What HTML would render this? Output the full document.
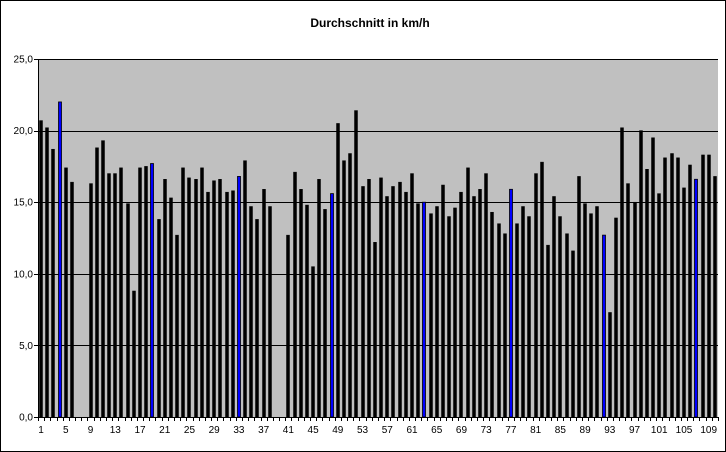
<!DOCTYPE html>
<html><head><meta charset="utf-8"><style>
body{margin:0;background:#fff}
svg{display:block;font-family:"Liberation Sans",Arial,sans-serif}
</style></head><body>
<svg id="chart" width="726" height="452">
<rect x="0.5" y="0.5" width="725" height="451" fill="#fff" stroke="#000"/>
<text x="370" y="27" text-anchor="middle" font-size="12" font-weight="bold">Durchschnitt in km/h</text>
<rect x="38" y="59" width="680" height="358" fill="#c0c0c0"/>
<g id="grid"></g><g id="bars"></g><g id="axes"></g>
</svg>
<script>
const values=[20.7,20.2,18.7,22.0,17.4,16.4,0,0,16.3,18.8,19.3,17.0,17.0,17.4,14.9,8.8,17.4,17.5,17.7,13.8,16.6,15.3,12.7,17.4,16.7,16.6,17.4,15.7,16.5,16.6,15.7,15.8,16.8,17.9,14.7,13.8,15.9,14.7,0,0,12.7,17.1,15.9,14.8,10.5,16.6,14.5,15.6,20.5,17.9,18.4,21.4,16.1,16.6,12.2,16.7,15.4,16.1,16.4,15.7,17.0,14.9,15.0,14.2,14.7,16.2,14.0,14.6,15.7,17.4,15.4,15.9,17.0,14.3,13.5,12.8,15.9,13.5,14.7,14.0,17.0,17.8,12.0,15.4,14.0,12.8,11.6,16.8,14.9,14.2,14.7,12.7,7.3,13.9,20.2,16.3,15.0,20.0,17.3,19.5,15.6,18.1,18.4,18.1,16.0,17.6,16.6,18.3,18.3,16.8];
const highlighted=[4,19,33,48,63,77,92,107];
const yTicks=[0,5,10,15,20,25];
const yTickLabels=["0,0","5,0","10,0","15,0","20,0","25,0"];
const NS="http://www.w3.org/2000/svg";
const X0=38,X1=718,Y0=417,Y1=59,YMAX=25;
const n=values.length,step=(X1-X0)/n;
const y=v=>Y0-(v/YMAX)*(Y0-Y1);
const x=i=>X0+step*(i+0.5);
function mk(t,a,p){const e=document.createElementNS(NS,t);for(const k in a)e.setAttribute(k,a[k]);p.appendChild(e);return e;}
const grid=document.getElementById('grid'),bars=document.getElementById('bars'),axes=document.getElementById('axes');
yTicks.forEach((t,i)=>{
  if(t>0){const g=mk('line',{x1:X0,x2:X1,y1:Math.round(y(t))+0.5,y2:Math.round(y(t))+0.5,stroke:'#000'},grid);
  
  }
  const tk=mk('line',{x1:X0-4,x2:X0,y1:Math.round(y(t))+0.5,y2:Math.round(y(t))+0.5,stroke:'#000'},axes);
  
  
  const lb=mk('text',{x:X0-5,y:y(t)+3.5,'text-anchor':'end','font-size':'10'},axes);
  lb.textContent=yTickLabels[i];
  
  
});
values.forEach((v,i)=>{
  if(v<=0)return;
  const hi=highlighted.includes(i+1);
  const top=y(v);
  const r=mk('rect',{x:Math.round(x(i))-1.5,y:top,width:3,height:Y0-top,fill:hi?'#0000ff':'#000',stroke:'#000','stroke-width':hi?0.8:0.5},bars);
  
  
});
const ax=mk('line',{x1:X0+0.5,x2:X0+0.5,y1:Y1,y2:Y0,stroke:'#000'},axes);


const bx=mk('line',{x1:X0,x2:X1,y1:Y0+0.5,y2:Y0+0.5,stroke:'#000'},axes);


for(let i=0;i<=n;i++){
  const tx=Math.round(X0+step*i)+0.5;
  const t=mk('line',{x1:tx,x2:tx,y1:Y0,y2:Y0+4,stroke:'#000'},axes);
  
  
}
for(let i=0;i<n;i+=4){
  const l=mk('text',{x:x(i),y:Y0+16,'text-anchor':'middle','font-size':'10'},axes);
  l.textContent=String(i+1);
  
  
}
</script>
</body></html>
